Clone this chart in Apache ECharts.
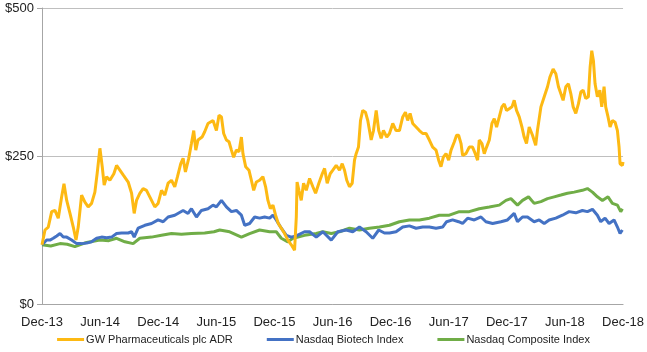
<!DOCTYPE html>
<html>
<head>
<meta charset="utf-8">
<script src="https://cdn.jsdelivr.net/npm/echarts@6/dist/echarts.min.js"></script>
<style>
html,body{margin:0;padding:0;background:#fff;}
#chart{width:647px;height:352px;}
</style>
</head>
<body>
<div id="chart"></div>
<script>
// x = months since Dec-13, y = indexed value ($)
var tickLabels = ['Dec-13','Jun-14','Dec-14','Jun-15','Dec-15','Jun-16','Dec-16','Jun-17','Dec-17','Jun-18','Dec-18'];
var yTicks = [0, 250, 500];
var seriesNames = ['GW Pharmaceuticals plc ADR', 'Nasdaq Biotech Index', 'Nasdaq Composite Index'];

var gwData = [
[0,100],[0.31,125],[0.65,130],[1.0,156],[1.34,158],[1.68,145],[2.03,181],[2.27,203],[2.55,175],[2.89,153],
[3.23,130],[3.51,108],[3.74,130],[4.09,184],[4.43,172],[4.77,164],[5.12,170],[5.46,189],[5.70,221],[5.98,263],
[6.22,232],[6.42,201],[6.67,215],[7.01,209],[7.42,220],[7.70,234],[8.04,226],[8.38,218],[8.90,206],[9.25,187],
[9.52,153],[9.76,175],[10.10,187],[10.44,195],[10.79,192],[11.13,181],[11.65,164],[11.99,170],[12.34,192],[12.68,184],
[13.02,204],[13.37,209],[13.71,198],[13.99,215],[14.33,237],[14.57,246],[14.81,223],[15.15,246],[15.43,271],[15.67,293],
[15.88,260],[16.11,277],[16.53,282],[16.80,291],[17.14,305],[17.32,302],[17.66,310],[18.01,293],[18.28,319],[18.53,316],
[18.76,288],[19.04,277],[19.31,274],[19.56,260],[19.79,248],[20.07,260],[20.34,257],[20.59,282],[20.75,254],[21.03,232],
[21.37,226],[21.62,209],[21.86,192],[22.13,206],[22.47,209],[22.81,215],[23.09,198],[23.33,175],[23.58,161],[23.85,167],
[24.12,150],[24.40,136],[24.71,128],[25.05,119],[25.39,108],[25.74,100],[26.08,91],[26.26,147],[26.34,206],[26.53,192],
[26.77,175],[27.01,204],[27.29,192],[27.63,212],[27.97,198],[28.25,187],[28.59,204],[28.94,220],[29.18,229],[29.45,204],
[29.76,220],[30.03,226],[30.38,234],[30.72,226],[31.0,237],[31.24,226],[31.47,209],[31.75,198],[32.03,204],[32.27,243],
[32.44,254],[32.68,265],[32.89,310],[33.12,327],[33.40,324],[33.64,310],[33.99,277],[34.23,293],[34.51,327],[34.77,293],
[35.02,280],[35.26,293],[35.60,282],[35.88,288],[36.22,305],[36.56,293],[36.91,293],[37.25,316],[37.53,324],[37.76,310],
[38.01,322],[38.28,305],[38.63,299],[38.97,293],[39.31,288],[39.66,288],[40.0,277],[40.34,265],[40.69,260],[40.96,243],
[41.20,232],[41.44,248],[41.72,254],[41.99,243],[42.24,260],[42.58,274],[42.81,285],[43.02,285],[43.27,271],[43.43,251],
[43.78,254],[44.12,265],[44.46,265],[44.74,254],[44.98,243],[45.15,277],[45.43,271],[45.67,254],[45.91,265],[46.19,277],
[46.46,305],[46.70,313],[46.94,299],[47.22,316],[47.49,333],[47.73,338],[47.97,327],[48.25,330],[48.53,333],[48.76,344],
[49.0,327],[49.28,316],[49.56,299],[49.79,282],[50.03,271],[50.31,299],[50.65,285],[50.98,268],[51.16,293],[51.52,333],
[51.86,350],[52.20,367],[52.44,383],[52.78,397],[53.06,389],[53.33,367],[53.58,355],[53.81,344],[54.09,367],[54.36,372],
[54.61,355],[54.85,333],[55.12,322],[55.39,338],[55.64,358],[55.88,361],[56.15,347],[56.42,350],[56.60,400],[56.77,428],
[56.94,411],[57.11,372],[57.35,350],[57.60,361],[57.80,333],[58.04,367],[58.21,333],[58.45,316],[58.66,299],[58.90,310],
[59.18,307],[59.42,293],[59.59,265],[59.69,237],[59.93,234],[60,240]
];

var biotechData = [
[0,100],[0.48,108],[0.82,108],[1.16,111],[1.52,115],[1.86,119],[2.2,113],[2.55,113],[3.06,108],[3.58,102],
[4.09,102],[4.61,103],[5.12,105],[5.64,111],[6.15,113],[6.67,112],[7.19,113],[7.70,119],[8.22,120],[8.90,120],
[9.25,122],[9.52,113],[9.93,128],[10.62,133],[11.31,136],[11.99,142],[12.51,139],[13.02,147],[13.71,150],[14.57,158],
[15.08,153],[15.43,161],[15.95,147],[16.46,158],[17.14,161],[17.66,167],[18.01,164],[18.53,175],[19.04,164],[19.56,156],
[20.07,158],[20.59,150],[20.93,133],[21.44,136],[21.96,147],[22.47,145],[22.99,147],[23.51,145],[23.85,150],[24.19,142],
[24.71,128],[25.23,116],[25.74,113],[26.26,115],[27.11,122],[27.63,122],[28.32,113],[29.0,122],[29.87,108],[30.55,122],
[31.41,125],[32.09,122],[32.78,130],[33.47,122],[34.15,111],[34.77,125],[35.36,120],[35.88,120],[36.56,122],[37.25,130],
[37.94,132],[38.63,128],[39.31,130],[40.0,130],[40.69,128],[41.37,130],[41.78,139],[42.40,142],[43.02,139],[43.43,136],
[43.95,145],[44.64,142],[45.33,147],[45.84,139],[46.53,136],[47.39,139],[48.07,142],[48.76,153],[49.10,139],[49.62,147],
[50.13,147],[50.82,139],[51.34,142],[51.86,136],[52.37,142],[53.06,145],[53.74,150],[54.43,156],[55.12,154],[55.80,158],
[56.32,156],[56.84,160],[57.35,150],[57.70,139],[58.14,145],[58.56,136],[59.07,142],[59.42,130],[59.69,119],[59.93,125]
];

var compositeData = [
[0,100],[0.9,98],[1.86,102],[2.6,101],[3.40,97],[4.61,104],[5.98,108],[6.9,107],[7.70,111],[8.56,105],
[9.41,102],[10.1,111],[11.31,113],[12.34,116],[13.37,119],[14.40,118],[15.43,119],[16.80,120],[17.76,122],[18.35,125],
[19.38,122],[20.59,113],[21.44,119],[22.47,125],[23.51,122],[24.19,122],[24.71,111],[25.39,105],[25.91,111],[26.42,113],
[27.11,116],[28.32,119],[29.0,122],[29.87,119],[30.72,122],[31.75,128],[32.78,125],[33.81,128],[34.85,130],[35.88,133],
[36.91,139],[37.94,142],[38.97,142],[40.0,145],[41.03,150],[42.06,150],[43.09,156],[44.12,156],[45.15,161],[46.19,164],
[47.22,167],[47.91,175],[48.42,178],[49.10,167],[49.62,175],[50.24,181],[50.82,170],[51.52,173],[52.20,178],[52.89,181],
[53.58,184],[54.26,187],[54.95,189],[55.80,192],[56.32,195],[56.84,189],[57.35,181],[57.87,175],[58.45,181],[58.90,170],
[59.42,167],[59.76,156],[59.93,161]
];

var colors = ['#FDB913', '#4472C4', '#70AD47'];

var chart = echarts.init(document.getElementById('chart'), null, {renderer: 'canvas'});
chart.setOption({
  animation: false,
  backgroundColor: '#fff',
  grid: {left: 42, right: 23, top: 8, bottom: 48, containLabel: false},
  legend: {
    data: seriesNames,
    bottom: 2,
    left: 'center',
    itemWidth: 27,
    itemHeight: 3,
    itemGap: 34,
    icon: 'rect',
    textStyle: {fontFamily: 'Liberation Sans, Arial', fontSize: 11, color: '#222', padding: [0,0,0,-3]}
  },
  xAxis: {
    type: 'value',
    min: 0, max: 60, interval: 6,
    axisLine: {show: true, lineStyle: {color: '#A6A6A6', width: 1}},
    axisTick: {show: false},
    splitLine: {show: false},
    axisLabel: {
      margin: 12,
      fontFamily: 'Liberation Sans, Arial', fontSize: 13, color: '#222',
      formatter: function (v) { return tickLabels[Math.round(v / 6)]; }
    }
  },
  yAxis: {
    type: 'value',
    min: yTicks[0], max: yTicks[yTicks.length - 1], interval: 250,
    axisLine: {show: true, lineStyle: {color: '#A6A6A6', width: 1}},
    axisTick: {show: true, length: 5, lineStyle: {color: '#A6A6A6'}},
    splitLine: {show: true, lineStyle: {color: '#BFBFBF', width: 1}},
    axisLabel: {
      margin: 8,
      fontFamily: 'Liberation Sans, Arial', fontSize: 13, color: '#222',
      formatter: function (v) { return '$' + v; }
    }
  },
  series: [
    {name: seriesNames[0], type: 'line', data: gwData, showSymbol: false, z: 4,
     lineStyle: {color: colors[0], width: 3}, itemStyle: {color: colors[0]}},
    {name: seriesNames[1], type: 'line', data: biotechData, showSymbol: false, z: 3,
     lineStyle: {color: colors[1], width: 3}, itemStyle: {color: colors[1]}},
    {name: seriesNames[2], type: 'line', data: compositeData, showSymbol: false, z: 2,
     lineStyle: {color: colors[2], width: 3}, itemStyle: {color: colors[2]}}
  ]
});
</script>
</body>
</html>
